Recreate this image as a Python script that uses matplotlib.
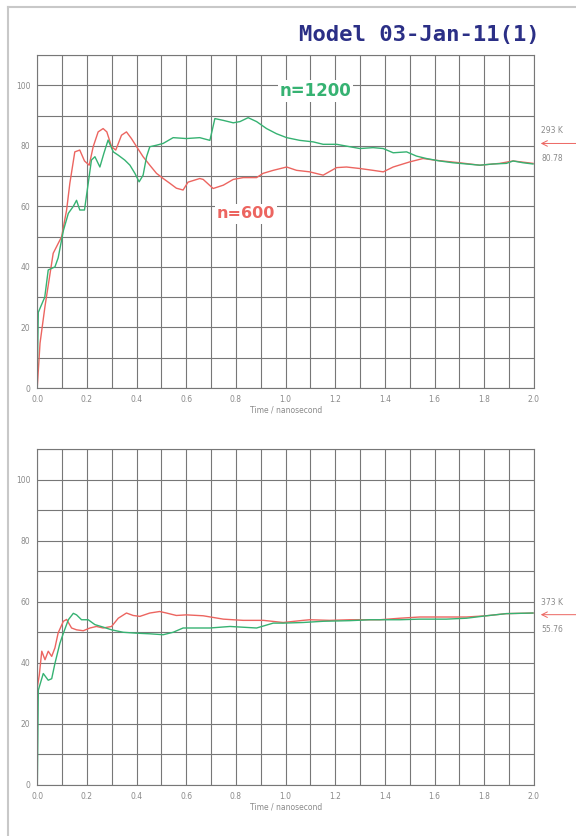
import matplotlib
matplotlib.use('Agg')
import matplotlib.pyplot as plt
import numpy as np

# 293 K run (upper panel)
t600_a = [0.0, 0.011, 0.031, 0.064, 0.098, 0.118, 0.131, 0.151, 0.171, 0.19, 0.209, 0.225, 0.245, 0.265,
          0.28, 0.299, 0.316, 0.339, 0.359, 0.379, 0.4, 0.426, 0.453, 0.48, 0.507, 0.534, 0.56, 0.587,
          0.607, 0.654, 0.668, 0.708, 0.749, 0.789, 0.829, 0.883, 0.909, 0.95, 1.004, 1.044, 1.097, 1.151,
          1.205, 1.245, 1.299, 1.352, 1.393, 1.433, 1.5, 1.553, 1.607, 1.701, 1.782, 1.862, 1.916, 1.996]
v600_a = [0.5, 14.8, 27, 44.5, 50, 58.8, 67.6, 78, 78.6, 75, 73.6, 79.7, 84.6, 85.7,
          84.6, 79.7, 78.6, 83.5, 84.6, 82.4, 79.7, 76.4, 73.6, 70.9, 69.2, 67.6, 66, 65.4,
          68, 69.2, 68.9, 65.9, 67, 68.9, 69.5, 69.5, 70.9, 71.9, 73, 71.9, 71.4, 70.3,
          72.8, 73, 72.5, 71.9, 71.4, 73, 74.7, 75.8, 75.2, 74.4, 73.6, 74.2, 75, 74.2]

t1200_a = [0.0, 0.004, 0.03, 0.044, 0.071, 0.084, 0.105, 0.125, 0.145, 0.158, 0.171, 0.19, 0.205, 0.218,
           0.232, 0.252, 0.268, 0.285, 0.306, 0.326, 0.352, 0.373, 0.393, 0.41, 0.426, 0.44, 0.453, 0.48,
           0.507, 0.547, 0.6, 0.654, 0.695, 0.715, 0.749, 0.789, 0.816, 0.849, 0.883, 0.923, 0.963, 1.004,
           1.057, 1.111, 1.151, 1.205, 1.245, 1.299, 1.352, 1.393, 1.433, 1.487, 1.527, 1.567, 1.62, 1.674,
           1.728, 1.782, 1.835, 1.889, 1.916, 1.956, 1.996]
v1200_a = [5, 25, 30, 39, 40, 43, 52, 57.7, 60, 62, 58.8, 58.8, 67.6, 75.3,
           76.4, 73, 77.5, 81.9, 78, 76.9, 75.3, 73.6, 70.9, 68.1, 70.3, 76.4, 79.7, 80.2,
           80.8, 82.7, 82.4, 82.7, 81.8, 89, 88.4, 87.6, 88, 89.3, 88, 85.7, 84, 82.7,
           81.8, 81.3, 80.5, 80.5, 79.9, 79.1, 79.4, 79.1, 77.7, 78, 76.6, 75.8, 75, 74.4,
           74, 73.6, 74, 74.2, 75, 74.4, 74]

# 373 K run (lower panel)
t600_b = [0.0, 0.008, 0.018, 0.031, 0.044, 0.058, 0.071, 0.084, 0.105, 0.118, 0.138, 0.158, 0.185, 0.212,
          0.238, 0.265, 0.299, 0.326, 0.359, 0.386, 0.413, 0.453, 0.493, 0.52, 0.56, 0.6, 0.668, 0.749,
          0.829, 0.91, 0.99, 1.07, 1.097, 1.177, 1.258, 1.338, 1.379, 1.46, 1.54, 1.647, 1.728, 1.808,
          1.888, 1.996]
v600_b = [32, 36, 43.8, 41, 43.8, 42.1, 44.9, 49.8, 53.6, 54.2, 51.4, 50.8, 50.5, 51.4,
          51.9, 51.4, 51.9, 54.6, 56.3, 55.5, 55.2, 56.3, 56.8, 56.3, 55.5, 55.7, 55.4, 54.3,
          53.9, 53.9, 53.2, 53.9, 54.1, 53.9, 54.1, 54.1, 54.1, 54.6, 55, 55, 55, 55.4,
          56.1, 56.3]

t1200_b = [0.0, 0.002, 0.004, 0.024, 0.044, 0.058, 0.071, 0.091, 0.105, 0.125, 0.145, 0.158, 0.178, 0.205,
           0.232, 0.265, 0.299, 0.346, 0.4, 0.453, 0.507, 0.547, 0.587, 0.627, 0.695, 0.776, 0.883, 0.95,
           0.99, 1.07, 1.151, 1.258, 1.338, 1.419, 1.46, 1.54, 1.647, 1.728, 1.808, 1.888, 1.996]
v1200_b = [0, 15, 31, 36.5, 34.3, 34.8, 39.8, 46.4, 49.7, 54.1, 56.2, 55.7, 54.1, 54.1,
           52.5, 51.7, 50.8, 50, 49.7, 49.5, 49.2, 50, 51.4, 51.4, 51.4, 51.9, 51.4, 53,
           53, 53.2, 53.6, 53.8, 54.1, 54.1, 54.1, 54.3, 54.3, 54.6, 55.4, 56.1, 56.3]

temps = ['293 K', '373 K']
marks = [80.78, 55.76]

xticks = [0.0, 0.2, 0.4, 0.6, 0.8, 1.0, 1.2, 1.4, 1.6, 1.8, 2.0]
yticks = [0, 20, 40, 60, 80, 100]

red = '#ec6560'
green = '#36b272'
W, H = 576, 836

fig = plt.figure(figsize=(W / 100, H / 100), dpi=100)

# light outer frame
fig.add_artist(plt.Line2D([8 / W, 8 / W], [0, 1 - 7 / H], color='#c8c8c8', lw=1.5))
fig.add_artist(plt.Line2D([8 / W, 1], [1 - 7 / H, 1 - 7 / H], color='#c8c8c8', lw=1.5))

ax1 = fig.add_axes([37.3 / W, 1 - 388 / H, 496.7 / W, 333 / H])
ax2 = fig.add_axes([37.3 / W, 1 - 785 / H, 496.7 / W, 336 / H])

panels = [(ax1, t600_a, v600_a, t1200_a, v1200_a), (ax2, t600_b, v600_b, t1200_b, v1200_b)]
for i, (ax, ta, va, tb, vb) in enumerate(panels):
    ax.set_xlim(0, 2.0)
    ax.set_ylim(0, 110)
    ax.set_xticks(xticks)
    ax.set_xticklabels(['%.1f' % x for x in xticks])
    ax.set_yticks(yticks)
    ax.set_xticks(np.arange(0, 2.01, 0.1), minor=True)
    ax.set_yticks(np.arange(0, 111, 10), minor=True)
    ax.grid(True, which='both', color='#777777', lw=0.8)
    ax.set_axisbelow(True)
    ax.tick_params(which='both', length=0, labelsize=5.5, labelcolor='#8a8a8a', pad=5)
    for s in ax.spines.values():
        s.set_color('#777777')
        s.set_linewidth(0.8)
    ax.plot(ta, va, color=red, lw=1.0)
    ax.plot(tb, vb, color=green, lw=1.0)
    ax.set_xlabel('Time / nanosecond', fontsize=5.5, color='#8a8a8a', labelpad=1)

    # reference marker at the right edge
    ax.annotate('', xy=(1.008, marks[i]), xytext=(1.09, marks[i]),
                xycoords=('axes fraction', 'data'), textcoords=('axes fraction', 'data'),
                arrowprops=dict(arrowstyle='->', color=red, lw=0.7), annotation_clip=False)
    ax.annotate(temps[i], xy=(1.015, marks[i]), xycoords=('axes fraction', 'data'),
                xytext=(0, 9), textcoords='offset points', fontsize=5.5, color='#8a8a8a',
                va='center', ha='left', annotation_clip=False)
    ax.annotate('%.2f' % marks[i], xy=(1.015, marks[i]), xycoords=('axes fraction', 'data'),
                xytext=(0, -11), textcoords='offset points', fontsize=5.5, color='#8a8a8a',
                va='center', ha='left', annotation_clip=False)

box = dict(facecolor='white', edgecolor='none', pad=1.5)
ax1.text(1.12, 98, 'n=1200', color=green, fontsize=12, fontweight='bold', ha='center', va='center', bbox=box)
ax1.text(0.84, 57.5, 'n=600', color=red, fontsize=11.5, fontweight='bold', ha='center', va='center', bbox=box)

fig.text(540 / W, 1 - 35 / H, 'Model 03-Jan-11(1)', family='DejaVu Sans Mono', fontweight='bold',
         fontsize=16, color='#2b2f86', ha='right', va='center')

plt.savefig('out.png', dpi=100)
